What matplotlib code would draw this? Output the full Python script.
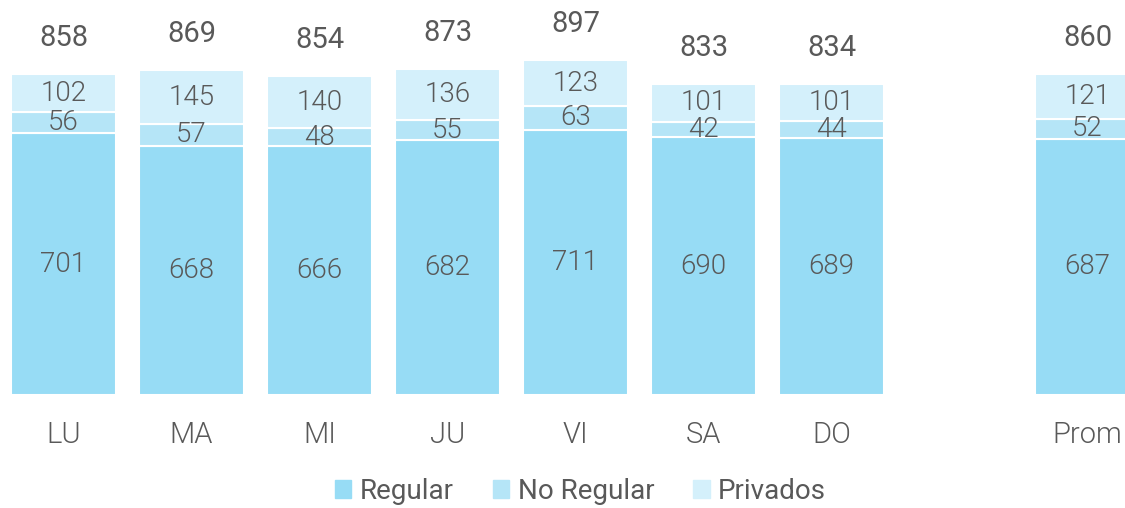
import matplotlib
matplotlib.use("Agg")
import matplotlib.pyplot as plt
from matplotlib.patches import Rectangle

plt.rcParams['font.family'] = ['Roboto', 'DejaVu Sans']

# datos por dia
dias = ["LU", "MA", "MI", "JU", "VI", "SA", "DO", "Prom"]
regular = [701, 668, 666, 682, 711, 690, 689, 687]
no_regular = [56, 57, 48, 55, 63, 42, 44, 52]
privados = [102, 145, 140, 136, 123, 101, 101, 121]
totales = [858, 869, 854, 873, 897, 833, 834, 860]

colores = ["#97dcf5", "#b5e5f7", "#d4f0fb"]
gris = "#595959"

# Prom queda separado del resto
pos = [0, 1, 2, 3, 4, 5, 6, 8]
ancho = 0.82

fig = plt.figure(figsize=(11.25, 5.08), dpi=100)
ax = fig.add_axes([0, 0.2224, 1, 0.7776])

series = [regular, no_regular, privados]
base = [0] * len(dias)
for vals, col in zip(series, colores):
    ax.bar(pos, vals, ancho, bottom=base, color=col, edgecolor="white", linewidth=1.5)
    for p, b, v in zip(pos, base, vals):
        ax.text(p, b + v / 2, str(v), ha="center", va="center", fontsize=20,
                color=gris, fontweight=300)
    base = [b + v for b, v in zip(base, vals)]

for p, b, t in zip(pos, base, totales):
    ax.text(p, b + 96, str(t), ha="center", va="center", fontsize=21, color=gris)

ax.set_xlim(-0.496, 8.293)
ax.set_ylim(0, 1058)
ax.set_xticks(pos)
ax.set_xticklabels(dias, fontsize=21, color=gris, fontweight=300)
ax.tick_params(axis="x", length=0, pad=19)
ax.set_yticks([])
for s in ax.spines.values():
    s.set_visible(False)

handles = [Rectangle((0, 0), 1, 1, color=c) for c in colores]
fig.legend(handles, ["Regular", "No Regular", "Privados"], loc="center",
           bbox_to_anchor=(0.516, 0.033), ncol=3, frameon=False, fontsize=20,
           handlelength=0.6, handleheight=0.6, handletextpad=0.3, columnspacing=1.4,
           labelcolor=gris)

fig.savefig("out.png", dpi=100)
